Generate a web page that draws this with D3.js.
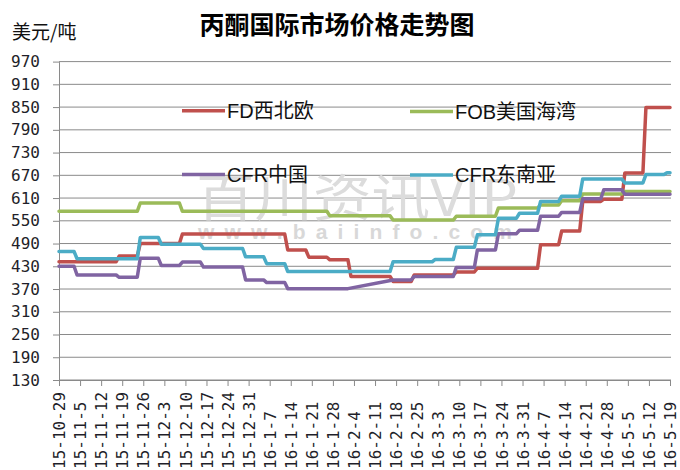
<!DOCTYPE html>
<html lang="zh">
<head>
<meta charset="UTF-8" />
<title>丙酮国际市场价格走势图</title>
<script src="https://cdn.jsdelivr.net/npm/d3@7"></script>
<style>
  body { margin: 0; background: #fff; }
</style>
</head>
<body>
<svg id="chart" width="680" height="470" style="background-color:#fff;"></svg>
<script>
// weekly date labels (prices change each Wednesday, the day before the label)
const dateLabels = [
  "15-10-29", "15-11-5", "15-11-12", "15-11-19", "15-11-26", "15-12-3",
  "15-12-10", "15-12-17", "15-12-24", "15-12-31", "16-1-7", "16-1-14",
  "16-1-21", "16-1-28", "16-2-4", "16-2-11", "16-2-18", "16-2-25",
  "16-3-3", "16-3-10", "16-3-17", "16-3-24", "16-3-31", "16-4-7",
  "16-4-14", "16-4-21", "16-4-28", "16-5-5", "16-5-12", "16-5-19"
];
const yTicks = [130, 190, 250, 310, 370, 430, 490, 550, 610, 670, 730, 790, 850, 910, 970];

const fdNWEurope = [442, 442, 442, 457, 490, 490, 515, 515, 515, 515, 515, 473, 454, 447, 403,
  403, 390, 407, 407, 415, 425, 425, 425, 487, 523, 601, 607, 676, 849, 849];
const fobUSGulf = [575, 575, 575, 575, 597, 597, 575, 575, 575, 575, 575, 575, 575, 563, 563,
  563, 552, 552, 552, 562, 562, 584, 584, 592, 603, 621, 621, 627, 627, 627];
const cfrChina = [430, 407, 407, 401, 451, 432, 441, 428, 428, 394, 387, 371, 371, 371, null,
  null, 394, 403, 403, 427, 473, 516, 525, 562, 572, 608, 632, 620, 620, 620];
const cfrSEAsia = [469, 450, 450, 450, 506, 488, 488, 477, 477, 455, 437, 416, 416, 416, 416,
  416, 442, 442, 448, 480, 513, 557, 570, 601, 615, 660, 660, 650, 672, 677];

const seriesNames = ["FD西北欧", "FOB美国海湾", "CFR中国", "CFR东南亚"];
const seriesValues = [fdNWEurope, fobUSGulf, cfrChina, cfrSEAsia];
const colors = ["#C0504D", "#9BBB59", "#8064A2", "#4BACC6"];

const svg = d3.select("#chart");
const plotLeft = 59, plotRight = 670, plotTop = 61.6, plotBottom = 380;
const labelFont = "'DejaVu Sans Mono', monospace";
const cjkFont = "'Liberation Sans', 'Noto Sans CJK SC', sans-serif";

const parse = d3.timeParse("%y-%m-%d");
const labelDates = dateLabels.map(parse);
const first = labelDates[0];
const last = labelDates[labelDates.length - 1];

const x = d3.scaleTime().domain([first, last]).range([plotLeft, plotRight]);
const y = d3.scaleLinear().domain([130, 970]).range([plotBottom, plotTop]);

// grid
svg.append("g")
  .selectAll("line")
  .data(yTicks)
  .enter()
  .append("line")
  .attr("x1", plotLeft)
  .attr("x2", plotRight + 1)
  .attr("y1", d => y(d))
  .attr("y2", d => y(d))
  .attr("stroke", "#8a8a8a")
  .attr("stroke-width", 1);

// watermark
svg.append("text")
  .attr("x", 196)
  .attr("y", 216)
  .attr("font-family", "'Noto Sans CJK SC', sans-serif")
  .attr("font-size", 50)
  .attr("fill", "#dcdcdc")
  .attr("textLength", 322)
  .attr("lengthAdjust", "spacingAndGlyphs")
  .text("百川资讯VIP");
svg.append("text")
  .attr("x", 198)
  .attr("y", 239)
  .attr("font-family", "'Liberation Sans', sans-serif")
  .attr("font-size", 21)
  .attr("font-weight", "bold")
  .attr("fill", "#d8d8d8")
  .attr("textLength", 314)
  .attr("lengthAdjust", "spacing")
  .text("www.baiinfo.com");

// y axis
const yAxis = svg.append("g")
  .attr("transform", `translate(${plotLeft},0)`)
  .call(d3.axisLeft(y).tickValues(yTicks).tickSize(6).tickSizeOuter(0).tickPadding(13));
yAxis.select(".domain").attr("stroke", "#8a8a8a");
yAxis.selectAll(".tick line").attr("stroke", "#8a8a8a");
yAxis.selectAll(".tick text")
  .attr("font-family", labelFont)
  .attr("font-size", 16)
  .attr("fill", "#1f1f2a");

// x axis
const xAxis = svg.append("g")
  .attr("transform", `translate(0,${plotBottom})`)
  .call(d3.axisBottom(x).tickValues(labelDates).tickSize(6).tickSizeOuter(0)
    .tickFormat((d, i) => dateLabels[i]));
xAxis.select(".domain").attr("stroke", "#8a8a8a").attr("d", `M${plotLeft},0.5H${plotRight + 1}`);
xAxis.selectAll(".tick line").attr("stroke", "#8a8a8a");
xAxis.selectAll(".tick text")
  .attr("font-family", labelFont)
  .attr("font-size", 16)
  .attr("fill", "#1f1f2a")
  .attr("transform", "rotate(-90)")
  .attr("text-anchor", "start")
  .attr("x", -(469 - plotBottom))
  .attr("y", 0)
  .attr("dy", "0.35em");

// each weekly price holds from Wednesday to the following Tuesday
function stepPoints(values) {
  const pts = [];
  values.forEach((v, i) => {
    if (v == null) return;
    const start = d3.timeDay.offset(labelDates[i], -1);
    const end = d3.timeDay.offset(labelDates[i], 5);
    pts.push([start < first ? first : start, v]);
    pts.push([end > last ? last : end, v]);
  });
  return pts;
}

const line = d3.line().x(d => x(d[0])).y(d => y(d[1]));

svg.append("g")
  .selectAll("path")
  .data(seriesValues)
  .enter()
  .append("path")
  .attr("d", d => line(stepPoints(d)))
  .attr("fill", "none")
  .attr("stroke", (d, i) => colors[i])
  .attr("stroke-width", 3.5)
  .attr("stroke-linejoin", "round")
  .attr("stroke-linecap", "round");

// legend
const legendPos = [[182, 110.7], [410, 111.5], [182, 174.5], [410, 175]];
const legend = svg.append("g")
  .selectAll("g")
  .data(seriesNames)
  .enter()
  .append("g")
  .attr("transform", (d, i) => `translate(${legendPos[i][0]},${legendPos[i][1]})`);
legend.append("line")
  .attr("x1", 0)
  .attr("x2", 43)
  .attr("stroke", (d, i) => colors[i])
  .attr("stroke-width", 3.5);
legend.append("text")
  .attr("x", 45)
  .attr("dy", "0.35em")
  .attr("font-family", cjkFont)
  .attr("font-size", 20)
  .attr("fill", "#111")
  .text(d => d);

// titles
svg.append("text")
  .attr("x", 337)
  .attr("y", 34)
  .attr("text-anchor", "middle")
  .attr("font-family", "'Noto Sans CJK SC', sans-serif")
  .attr("font-size", 25)
  .attr("font-weight", "bold")
  .attr("fill", "#000")
  .text("丙酮国际市场价格走势图");
svg.append("text")
  .attr("x", 12)
  .attr("y", 39)
  .attr("font-family", "'Noto Sans CJK SC', sans-serif")
  .attr("font-size", 19)
  .attr("fill", "#111")
  .text("美元/吨");
</script>
</body>
</html>
